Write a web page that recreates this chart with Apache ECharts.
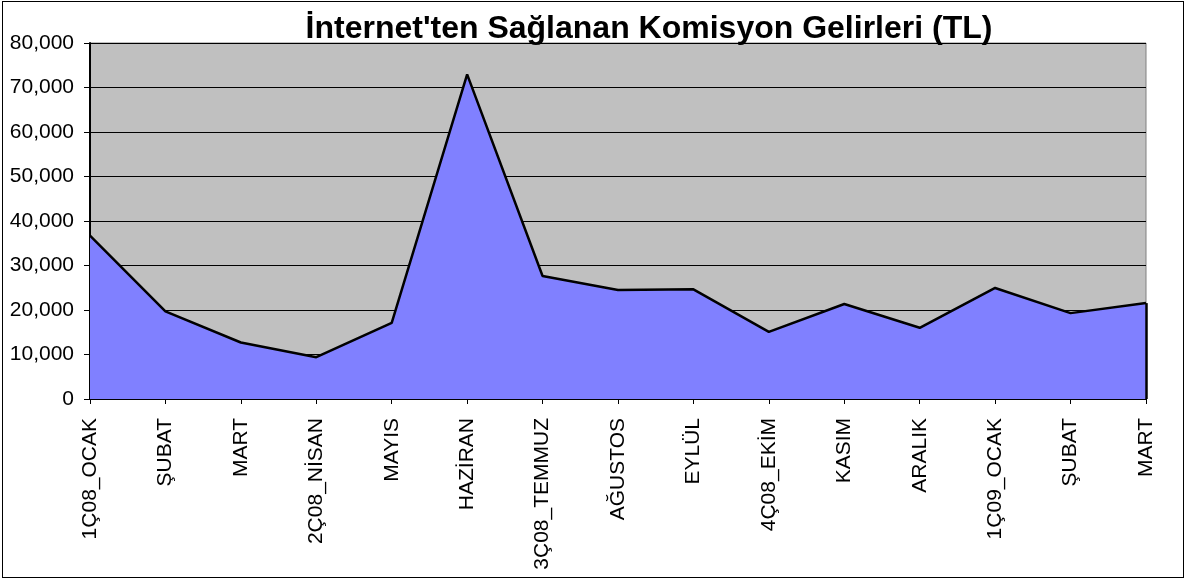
<!DOCTYPE html>
<html>
<head>
<meta charset="utf-8">
<script src="https://cdn.jsdelivr.net/npm/echarts@6/dist/echarts.min.js"></script>
<style>
    html, body { margin: 0; padding: 0; background: #ffffff; }
    #chart { position: absolute; left: 2px; top: 1px; width: 1180px; height: 575px; border: 1px solid #000000; }
</style>
</head>
<body>
<div id="chart"></div>
<script>
// aylar (kategori)
const months = [
    '1Ç08_OCAK', 'ŞUBAT', 'MART', '2Ç08_NİSAN', 'MAYIS', 'HAZİRAN', '3Ç08_TEMMUZ',
    'AĞUSTOS', 'EYLÜL', '4Ç08_EKİM', 'KASIM', 'ARALIK', '1Ç09_OCAK', 'ŞUBAT', 'MART'
];
// komisyon gelirleri (TL)
const commission = [
    36700, 19700, 12700, 9400, 17100, 72950, 27650,
    24500, 24650, 15100, 21350, 16000, 24950, 19300, 21550
];
const yTicks = { min: 0, max: 80000, interval: 10000 };

const eChart = echarts.init(document.getElementById('chart'));
const lastIdx = commission.length - 1;

const option = {
    animation: false,
    title: {
        text: "İnternet'ten Sağlanan Komisyon Gelirleri (TL)",
        left: 641,
        top: 6,
        textAlign: 'center',
        textStyle: {
            fontFamily: 'Liberation Sans, Arial, sans-serif',
            fontSize: 32,
            fontWeight: 'bold',
            color: '#000000'
        }
    },
    grid: {
        left: 87,
        right: 37,
        top: 41,
        bottom: 178,
        show: true,
        backgroundColor: '#C0C0C0',
        borderColor: '#808080',
        borderWidth: 1
    },
    xAxis: {
        type: 'category',
        boundaryGap: false,
        data: months,
        axisLine: { lineStyle: { color: '#000000', width: 2 } },
        axisTick: { show: true, length: 5, lineStyle: { color: '#000000' } },
        axisLabel: {
            interval: 0,
            rotate: 90,
            margin: 19,
            fontFamily: 'Liberation Sans, Arial, sans-serif',
            fontSize: 21,
            color: '#000000'
        },
        splitLine: { show: false }
    },
    yAxis: {
        type: 'value',
        min: yTicks.min,
        max: yTicks.max,
        interval: yTicks.interval,
        axisLine: { show: true, lineStyle: { color: '#000000', width: 2 } },
        axisTick: { show: true, length: 6, lineStyle: { color: '#000000' } },
        axisLabel: {
            margin: 16,
            fontFamily: 'Liberation Sans, Arial, sans-serif',
            fontSize: 21,
            color: '#000000',
            formatter: function(v) {
                return v.toLocaleString('en-US');
            }
        },
        splitLine: { show: true, lineStyle: { color: '#000000', width: 1 } }
    },
    series: [
        {
            type: 'line',
            data: commission,
            symbol: 'none',
            lineStyle: { color: '#000000', width: 2.5 },
            areaStyle: { color: '#8080FF', opacity: 1 },
            markLine: {
                silent: true,
                symbol: 'none',
                label: { show: false },
                lineStyle: { color: '#000000', width: 2.5, type: 'solid' },
                data: [
                    [{ coord: [lastIdx, 0] }, { coord: [lastIdx, commission[lastIdx]] }]
                ]
            }
        }
    ]
};
eChart.setOption(option);
</script>
</body>
</html>
